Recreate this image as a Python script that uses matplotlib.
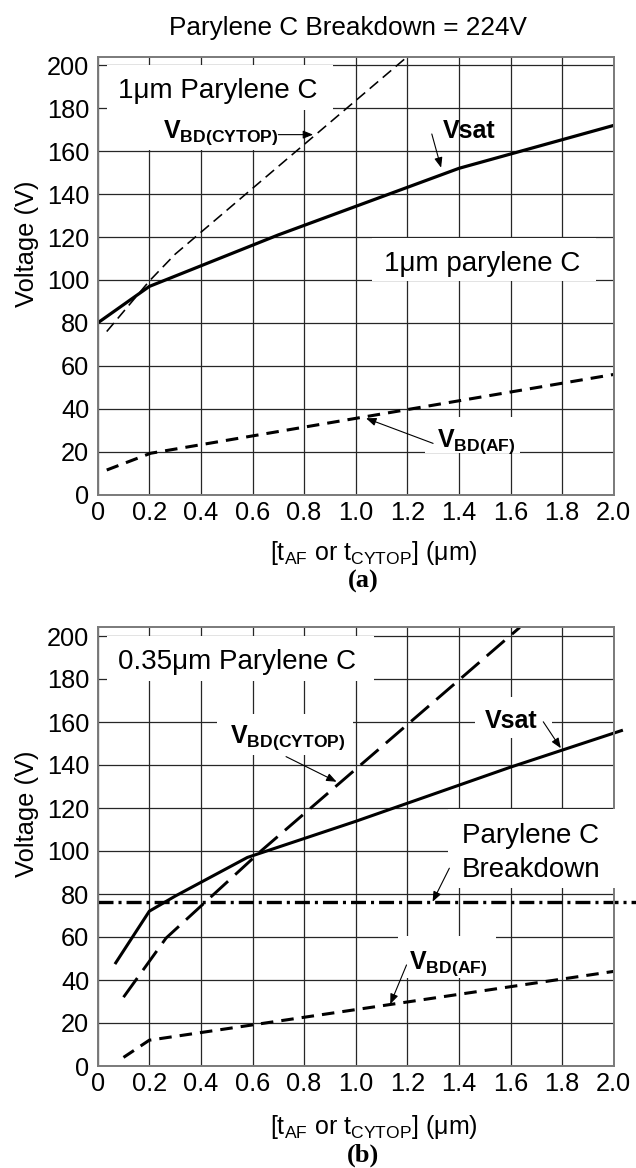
import matplotlib
matplotlib.use('Agg')
import matplotlib.pyplot as plt
from matplotlib.patches import Rectangle

plt.rcParams['font.family'] = ['Liberation Sans', 'DejaVu Sans']
plt.rcParams['mathtext.fontset'] = 'custom'
plt.rcParams['mathtext.rm'] = 'Liberation Sans'
plt.rcParams['mathtext.bf'] = 'Liberation Sans:bold'
plt.rcParams['mathtext.it'] = 'Liberation Sans:italic'
plt.rcParams['mathtext.default'] = 'regular'
plt.rcParams['lines.scale_dashes'] = False

# axis ticks
x_ticks = [0, 0.2, 0.4, 0.6, 0.8, 1.0, 1.2, 1.4, 1.6, 1.8, 2.0]
x_tick_labels = ['0', '0.2', '0.4', '0.6', '0.8', '1.0', '1.2', '1.4', '1.6', '1.8', '2.0']
y_ticks = [0, 20, 40, 60, 80, 100, 120, 140, 160, 180, 200]

# (a) 1um parylene C
vsat_a_x = [0, 0.2, 0.7, 1.4, 2.0]
vsat_a_y = [80, 97, 121, 152, 172]
cytop_a_x = [0.035, 0.2, 0.3, 1.2]
cytop_a_y = [76, 99.5, 112, 204]
af_a_x = [0.035, 0.205, 2.0]
af_a_y = [11.5, 19.3, 56]

# (b) 0.35um parylene C
vsat_b_x = [0.07, 0.2, 0.3, 0.58, 1.0, 1.6, 2.03]
vsat_b_y = [48, 72, 79, 97, 113.8, 139, 156]
cytop_b_x = [0.1, 0.265, 0.63, 1.4, 1.636]
cytop_b_y = [32, 59.5, 99.7, 179.5, 204]
af_b_x = [0.1, 0.2, 2.0]
af_b_y = [4, 12, 44]
brk_b_x = [0, 2.09]
brk_b_y = [76.5, 76.5]

W, H = 636, 1168
fx = lambda p: p / W
fy = lambda p: 1 - p / H

fig = plt.figure(figsize=(W / 100, H / 100), dpi=100)
ax_a = fig.add_axes([fx(97.7), fy(494.7), 516 / W, 438 / H])
ax_b = fig.add_axes([fx(97.7), fy(1066), 516 / W, 438.6 / H])


def setup(ax):
    ax.set_axisbelow(True)
    ax.set_xlim(0, 2)
    ax.set_ylim(0, 204)
    ax.set_xticks(x_ticks)
    ax.set_xticklabels(x_tick_labels)
    ax.set_yticks(y_ticks)
    ax.tick_params(length=0, labelsize=18.3, colors='k')
    ax.tick_params(axis='x', pad=4.5)
    ax.tick_params(axis='y', pad=6)
    ax.grid(True, color='#262626', lw=0.9)
    for s in ax.spines.values():
        s.set_color('#7a7a7a')
        s.set_linewidth(1.4)


def mask(ax, x0, x1, y0, y1, z=1, clip=True):
    ax.add_patch(Rectangle((x0, y0), x1 - x0, y1 - y0, fc='white', ec='none',
                           zorder=z, clip_on=clip))


def arrow(ax, start, tip):
    ax.annotate('', xy=tip, xytext=start, zorder=5, annotation_clip=False,
                arrowprops=dict(arrowstyle='-|>,head_length=0.55,head_width=0.22',
                                mutation_scale=11, lw=0.8, color='k',
                                shrinkA=0, shrinkB=0))


for ax in (ax_a, ax_b):
    setup(ax)

# ---- panel a
ax_a.plot(vsat_a_x, vsat_a_y, color='k', lw=2.3)
ax_a.plot(cytop_a_x, cytop_a_y, color='k', lw=1.15, dashes=(8, 4.3))
ax_a.plot(af_a_x, af_a_y, color='k', lw=2.2, dashes=(9, 5.8))

mask(ax_a, 0.035, 0.913, 179, 200.1)
mask(ax_a, 0.1, 0.76, 160.6, 179.5)
mask(ax_a, 1.063, 1.93, 99.5, 119.6)
mask(ax_a, 1.268, 1.638, 19.4, 36.3)

ax_a.text(0.079, 184.6, '1μm Parylene C', fontsize=20, va='baseline')
ax_a.text(0.252, 166, r'$\mathbf{V}_\mathbf{BD(CYTOP)}$', fontsize=18, va='baseline')
arrow(ax_a, (0.70, 167.7), (0.835, 167.7))
ax_a.text(1.339, 166, 'Vsat', fontsize=18, fontweight='bold', va='baseline')
arrow(ax_a, (1.295, 168), (1.331, 152.3))
ax_a.text(1.11, 104.3, '1μm parylene C', fontsize=20, va='baseline')
ax_a.text(1.315, 22.4, r'$\mathbf{V}_\mathbf{BD(AF)}$', fontsize=18, va='baseline')
arrow(ax_a, (1.30, 23.9), (1.04, 35.6))

# ---- panel b
ax_b.plot(vsat_b_x, vsat_b_y, color='k', lw=2.2, clip_on=False)
ax_b.plot(cytop_b_x, cytop_b_y, color='k', lw=2.1, dashes=(17, 7), clip_on=False)
ax_b.plot(af_b_x, af_b_y, color='k', lw=2.2, dashes=(9, 5.8))
ax_b.plot(brk_b_x, brk_b_y, color='k', lw=2.4, dashes=(10.8, 3.6, 2.2, 3.6),
          clip_on=False)

mask(ax_b, 0.035, 1.071, 179, 200.1)
mask(ax_b, 0.464, 0.99, 144.7, 163.5)
mask(ax_b, 1.462, 1.76, 152.4, 171.8)
mask(ax_b, 1.359, 2.03, 82.6, 119.6, z=2.6, clip=False)
mask(ax_b, 1.165, 1.543, 40.8, 60.5)

ax_b.text(0.079, 184.5, '0.35μm Parylene C', fontsize=20, va='baseline')
ax_b.text(0.513, 150.2, r'$\mathbf{V}_\mathbf{BD(CYTOP)}$', fontsize=18, va='baseline')
arrow(ax_b, (0.730, 143.9), (0.926, 132.2))
ax_b.text(1.501, 157.1, 'Vsat', fontsize=18, fontweight='bold', va='baseline')
arrow(ax_b, (1.727, 160.1), (1.795, 147.8))
ax_b.text(1.411, 103.6, 'Parylene C', fontsize=20, va='baseline', zorder=3)
ax_b.text(1.411, 88.0, 'Breakdown', fontsize=20, va='baseline', zorder=3)
arrow(ax_b, (1.363, 92), (1.298, 76.4))
ax_b.text(1.205, 45.4, r'$\mathbf{V}_\mathbf{BD(AF)}$', fontsize=18, va='baseline')
arrow(ax_b, (1.197, 47), (1.134, 28.8))

# ---- figure texts
fig.text(fx(347.6), fy(28.3), 'Parylene C Breakdown = 224V', fontsize=18.8,
         ha='center', va='center')
xlab = r'[t$_\mathrm{AF}$ or t$_\mathrm{CYTOP}$] (μm)'
for yl, xl, tag, yt in ((243.3, 553, '(a)', 581.7), (814, 1126.7, '(b)', 1155)):
    fig.text(fx(27), fy(yl), 'Voltage (V)', fontsize=18.4, rotation=90,
             ha='center', va='center')
    fig.text(fx(373.6), fy(xl), xlab, fontsize=18, ha='center', va='center')
    fig.text(fx(363), fy(yt), tag, fontsize=19, fontweight='bold',
             family='Liberation Serif', ha='center', va='center')

fig.savefig('out.png', dpi=100)
